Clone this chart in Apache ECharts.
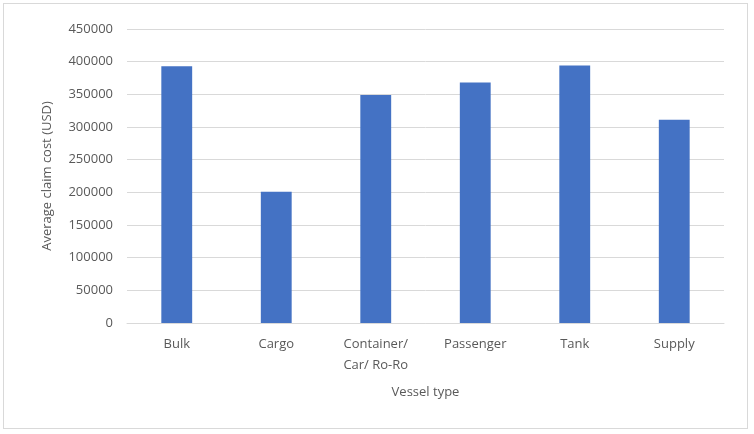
<!DOCTYPE html>
<html>
<head>
<meta charset="utf-8">
<script src="https://cdn.jsdelivr.net/npm/echarts@6/dist/echarts.min.js"></script>
<style>
  html, body { margin: 0; padding: 0; background: #fff; }
  #frame { position: absolute; left: 3px; top: 3px; width: 745px; height: 426px; border: 1px solid #d9d9d9; box-sizing: border-box; }
  #chart { width: 754px; height: 434px; }
</style>
</head>
<body>
<div id="frame"></div>
<div id="chart"></div>
<script>
// Average claim cost per vessel type
const vesselTypes = ['Bulk', 'Cargo', 'Container/\nCar/ Ro-Ro', 'Passenger', 'Tank', 'Supply'];
const avgClaimCost = [393000, 201000, 349000, 368000, 394000, 311000];

const textColor = '#595959';
const fontFamily = 'Open Sans, Noto Sans, sans-serif';

const chart = echarts.init(document.getElementById('chart'));
chart.setOption({
  animation: false,
  grid: { left: 127, right: 30, top: 29, bottom: 111, containLabel: false },
  xAxis: {
    type: 'category',
    data: vesselTypes,
    name: 'Vessel type',
    nameLocation: 'middle',
    nameGap: 63,
    nameTextStyle: { color: textColor, fontSize: 13, fontFamily },
    axisLine: { lineStyle: { color: '#d9d9d9', width: 1 } },
    axisTick: { show: false },
    axisLabel: { color: textColor, fontSize: 13, fontFamily, margin: 11, lineHeight: 21, verticalAlign: 'top' }
  },
  yAxis: {
    type: 'value',
    min: 0,
    max: 450000,
    interval: 50000,
    name: 'Average claim cost (USD)',
    nameLocation: 'middle',
    nameGap: 73,
    nameTextStyle: { color: textColor, fontSize: 13, fontFamily },
    axisLine: { show: false },
    axisTick: { show: false },
    axisLabel: { color: textColor, fontSize: 13, fontFamily, margin: 14, formatter: v => String(v) },
    splitLine: { lineStyle: { color: '#d9d9d9', width: 1 } }
  },
  series: [{
    type: 'bar',
    data: avgClaimCost,
    barWidth: '31%',
    itemStyle: { color: '#4472c4' }
  }]
});
</script>
</body>
</html>
